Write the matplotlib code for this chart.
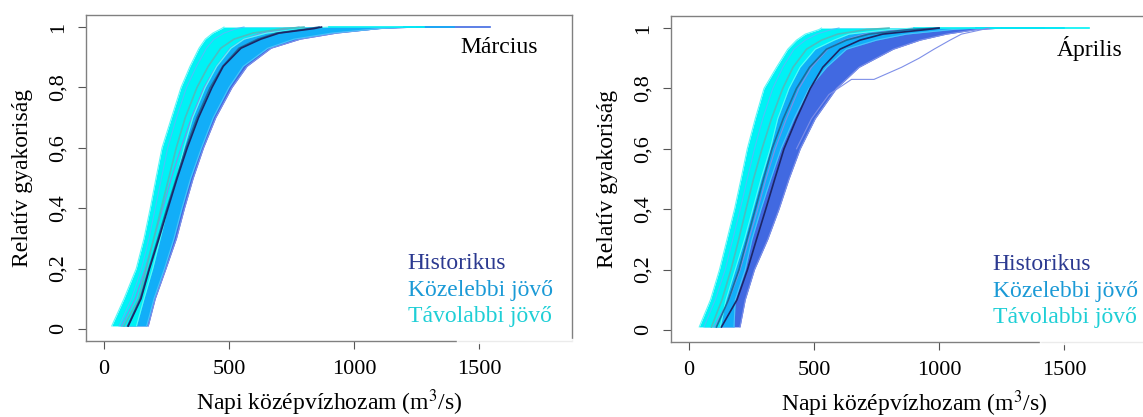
import matplotlib.pyplot as plt
from matplotlib.patches import Rectangle

plt.rcParams['font.family'] = ['Liberation Serif', 'DejaVu Serif']
plt.rcParams['mathtext.fontset'] = 'stix'

levels = [0.01, 0.1, 0.2, 0.3, 0.4, 0.5, 0.6, 0.7, 0.8, 0.87, 0.93, 0.96, 0.98, 0.995, 1.0]

## March (Március) - left edge, median, right edge of each bundle of curves (m3/s)
mar_hist_left = [70, 125, 165, 200, 235, 270, 308, 350, 400, 450, 505, 560, 630, 740, 780]
mar_hist_med = [97, 148, 182, 220, 256, 293, 333, 378, 432, 477, 548, 627, 700, 840, 870]
mar_hist_right = [177, 205, 248, 290, 322, 357, 398, 447, 512, 572, 668, 785, 930, 1100, 1250]
mar_near_left = [60, 110, 150, 180, 205, 230, 255, 290, 330, 370, 410, 440, 480, 530, 560]
mar_near_med = [95, 145, 180, 216, 252, 290, 328, 372, 425, 475, 540, 615, 690, 820, 860]
mar_near_right = [171, 200, 242, 280, 312, 347, 390, 437, 500, 557, 655, 760, 910, 1100, 1200]
mar_far_left = [31, 80, 129, 160, 185, 208, 232, 270, 308, 344, 380, 405, 435, 470, 480]
mar_far_med = [80, 139, 169, 199, 229, 259, 289, 325, 372, 417, 467, 520, 595, 720, 800]
mar_far_right = [130, 160, 195, 225, 255, 290, 320, 355, 405, 451, 508, 560, 650, 800, 900]
mar_max = {'hist': 1545, 'near': 1400, 'far': 1280}

## April (Április)
apr_hist_left = [100, 160, 205, 240, 275, 308, 345, 390, 440, 490, 555, 620, 700, 850, 900]
apr_hist_med = [130, 192, 234, 270, 307, 343, 380, 430, 485, 535, 604, 684, 775, 950, 1000]
apr_hist_right = [204, 225, 262, 315, 360, 400, 445, 505, 590, 680, 817, 924, 1030, 1150, 1250]
apr_near_left = [60, 105, 145, 175, 205, 233, 262, 295, 335, 375, 420, 465, 510, 570, 600]
apr_near_med = [110, 158, 200, 232, 265, 298, 332, 377, 430, 482, 550, 630, 720, 880, 1000]
apr_near_right = [180, 185, 225, 252, 288, 327, 368, 420, 480, 550, 630, 750, 870, 1050, 1150]
apr_far_left = [41, 86, 122, 152, 182, 208, 233, 265, 300, 350, 395, 430, 465, 520, 530]
apr_far_med = [90, 132, 168, 199, 228, 258, 292, 330, 375, 416, 470, 530, 595, 710, 800]
apr_far_right = [125, 148, 185, 222, 255, 288, 325, 355, 400, 444, 505, 580, 640, 800, 900]
apr_max = {'hist': 1420, 'near': 1500, 'far': 1600}

## one historical curve that drifts away from the bundle in April
apr_outlier_y = [0.6, 0.7, 0.78, 0.83, 0.83, 0.87, 0.9, 0.93, 0.96, 0.98, 1.0]
apr_outlier_x = [430, 490, 560, 650, 740, 850, 920, 980, 1044, 1090, 1200]

colors = {'hist': '#4169E1', 'near': '#12AEF8', 'far': '#00F2F5'}
edge_colors = {'hist': '#7E8FE8', 'near': '#4CC2FA', 'far': '#5CF7F7'}
med_colors = {'hist': '#1D2566', 'near': '#1B6E9C', 'far': '#49BFC2'}
legend_labels = ['Historikus', 'Közelebbi jövő', 'Távolabbi jövő']
legend_colors = ['#2B3990', '#1B9AD6', '#1FCFD6']

fig = plt.figure(figsize=(11.43, 4.17), dpi=100)
ax1 = fig.add_axes([86 / 1143, 76 / 417, 486 / 1143, 326 / 417])
ax2 = fig.add_axes([671 / 1143, 75 / 417, 486 / 1143, 326 / 417])

panels = [
    (ax1, 'Március', {'hist': (mar_hist_left, mar_hist_med, mar_hist_right),
                      'near': (mar_near_left, mar_near_med, mar_near_right),
                      'far': (mar_far_left, mar_far_med, mar_far_right)}, mar_max),
    (ax2, 'Április', {'hist': (apr_hist_left, apr_hist_med, apr_hist_right),
                      'near': (apr_near_left, apr_near_med, apr_near_right),
                      'far': (apr_far_left, apr_far_med, apr_far_right)}, apr_max),
]

for ax, month, groups, maxes in panels:
    # bundles: historical first, then near future, far future on top
    for key in ['hist', 'near', 'far']:
        left, med, right = groups[key]
        ax.fill_betweenx(levels, left, right, color=colors[key], lw=0)
        ax.plot(left, levels, color=edge_colors[key], lw=0.8)
        ax.plot(right, levels, color=edge_colors[key], lw=0.8)
        ax.plot([right[-1], maxes[key]], [1, 1], color=colors[key], lw=1.2)
    # medians on top
    for key in ['far', 'near', 'hist']:
        ax.plot(groups[key][1], levels, color=med_colors[key], lw=1.2)

    ax.set_xlim(-72, 1872)
    ax.set_ylim(-0.04, 1.04)
    ax.set_xticks([0, 500, 1000, 1500])
    ax.set_yticks([0, 0.2, 0.4, 0.6, 0.8, 1])
    ax.set_yticklabels(['0', '0,2', '0,4', '0,6', '0,8', '1'], rotation=90, va='center')
    ax.tick_params(axis='both', labelsize=16, length=6, color='#555555', direction='out')
    ax.tick_params(axis='x', pad=8)
    ax.tick_params(axis='y', pad=7)
    for sp in ax.spines.values():
        sp.set_color('#808080')
        sp.set_linewidth(1.0)

    ax.set_xlabel('Napi középvízhozam (m$^3$/s)', fontsize=17)
    ax.xaxis.set_label_coords(0.5, -0.19)
    ax.xaxis.label.set_va('center')
    ax.set_ylabel('Relatív gyakoriság', fontsize=17)
    ax.yaxis.set_label_coords(-0.13, 0.5)
    ax.yaxis.label.set_va('center')

    ax.text(0.93, 0.9, month, transform=ax.transAxes, ha='right', va='center', fontsize=17)
    for i, (lab, col) in enumerate(zip(legend_labels, legend_colors)):
        ax.text(0.662, 0.238 - i * 0.082, lab, transform=ax.transAxes,
                ha='left', va='center', fontsize=17, color=col)

ax2.plot(apr_outlier_x, apr_outlier_y, color=edge_colors['hist'], lw=0.8)

## white text boxes of the legend cover part of the bottom frame
fig.add_artist(Rectangle((457 / 1143, 74 / 417), 116 / 1143, 4 / 417,
                         transform=fig.transFigure, color='white', alpha=0.85, zorder=10))
fig.add_artist(Rectangle((1040 / 1143, 73 / 417), 110 / 1143, 4 / 417,
                         transform=fig.transFigure, color='white', alpha=0.85, zorder=10))

fig.savefig('out.png', dpi=100)
